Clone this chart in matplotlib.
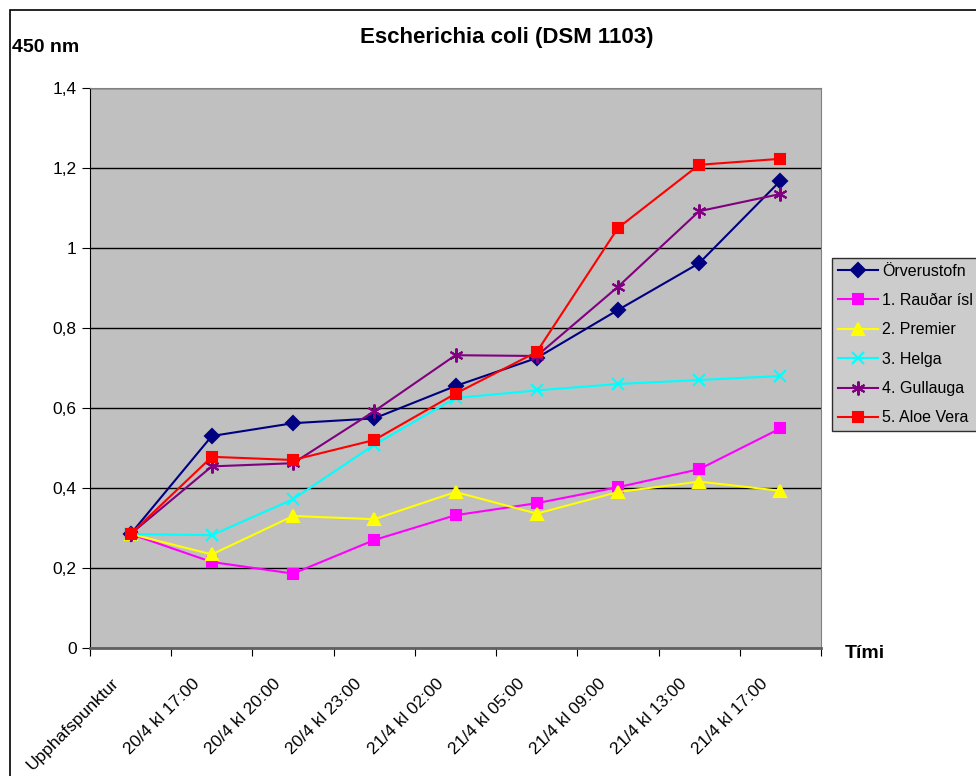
import matplotlib.pyplot as plt
from matplotlib.patches import Rectangle
from matplotlib.transforms import ScaledTranslation

plt.rcParams['font.family'] = ['Liberation Sans', 'DejaVu Sans']

categories = ['Upphafspunktur', '20/4 kl 17:00', '20/4 kl 20:00', '20/4 kl 23:00',
              '21/4 kl 02:00', '21/4 kl 05:00', '21/4 kl 09:00', '21/4 kl 13:00',
              '21/4 kl 17:00']

orverustofn = [0.285, 0.530, 0.562, 0.574, 0.655, 0.725, 0.845, 0.962, 1.168]
raudar_isl = [0.285, 0.215, 0.186, 0.270, 0.332, 0.362, 0.402, 0.447, 0.549]
premier = [0.285, 0.234, 0.330, 0.322, 0.390, 0.336, 0.390, 0.416, 0.393]
helga = [0.285, 0.282, 0.372, 0.508, 0.625, 0.644, 0.660, 0.670, 0.680]
gullauga = [0.285, 0.454, 0.462, 0.592, 0.732, 0.730, 0.903, 1.092, 1.135]
aloe_vera = [0.285, 0.478, 0.470, 0.520, 0.636, 0.740, 1.050, 1.208, 1.223]

series = [
    ('Örverustofn', orverustofn, '#000080', 'D', 7),
    ('1. Rauðar ísl', raudar_isl, '#FF00FF', 's', 7),
    ('2. Premier', premier, '#FFFF00', '^', 8),
    ('3. Helga', helga, '#00FFFF', 'x', 8),
    ('4. Gullauga', gullauga, '#800080', (6, 2, 0), 10),
    ('5. Aloe Vera', aloe_vera, '#FF0000', 's', 7),
]

fig = plt.figure(figsize=(9.76, 7.76), dpi=100)
ax = fig.add_axes([90/976, 1-648/776, (821-90)/976, (648-88)/776])
ax.set_facecolor('#C0C0C0')

x = list(range(len(categories)))
for name, vals, col, mk, ms in series:
    ax.plot(x, vals, color=col, lw=1.5, marker=mk, ms=ms, mec=col, mfc=col,
            mew=1.5, label=name)

ax.set_xlim(-0.5, len(categories) - 0.5)
ax.set_ylim(0, 1.4)
ax.set_yticks([0, 0.2, 0.4, 0.6, 0.8, 1.0, 1.2, 1.4])
ax.set_yticklabels(['0', '0,2', '0,4', '0,6', '0,8', '1', '1,2', '1,4'], fontsize=12.5)
ax.yaxis.grid(True, color='black', lw=1)
ax.set_axisbelow(True)

ax.set_xticks([i - 0.5 for i in range(len(categories) + 1)])
ax.set_xticklabels([])
ax.set_xticks(x, minor=True)
ax.set_xticklabels(categories, minor=True, rotation=45, ha='right', va='top',
                   rotation_mode='anchor', fontsize=12.5)
ax.tick_params(axis='x', which='minor', length=0, pad=20)
ax.tick_params(axis='x', which='major', length=6, direction='out', color='black')
ax.tick_params(axis='y', length=6, direction='out', color='black')
shift = ScaledTranslation(-20/100, 0, fig.dpi_scale_trans)
for lab in ax.get_xticklabels(minor=True):
    lab.set_transform(lab.get_transform() + shift)

for side in ['top', 'right']:
    ax.spines[side].set_color('#808080')
ax.spines['bottom'].set_color('#606060')
ax.spines['bottom'].set_linewidth(2)
ax.spines['left'].set_color('black')

fig.text(507/976, 1-38/776, 'Escherichia coli (DSM 1103)', ha='center', va='center',
         fontsize=16, fontweight='bold')
fig.text(12/976, 1-48/776, '450 nm', ha='left', va='center', fontsize=14, fontweight='bold')
fig.text(845/976, 1-653/776, 'Tími', ha='left', va='center', fontsize=14, fontweight='bold')

leg = ax.legend(loc='upper left', bbox_to_anchor=(832/976, 1-258/776),
                bbox_transform=fig.transFigure, fontsize=11.5, frameon=True,
                fancybox=False, edgecolor='black', facecolor='#C0C0C0',
                borderpad=0.35, labelspacing=0.9, handlelength=2.5, handletextpad=0.3,
                borderaxespad=0)
leg.get_frame().set_linewidth(1)

fig.patches.append(Rectangle((10/976, -0.05), 1.2, 1 - 10/776 + 0.05,
                             transform=fig.transFigure, fill=False,
                             edgecolor='black', lw=1.2))

fig.savefig('out.png', dpi=100)
